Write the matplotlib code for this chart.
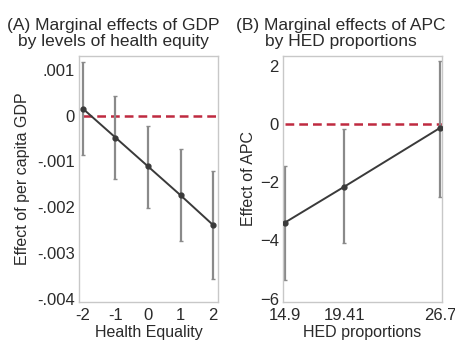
import matplotlib
matplotlib.use("Agg")
import matplotlib.pyplot as plt
import numpy as np

# Panel A: marginal effects of GDP by health equity
equity_levels = [-2, -1, 0, 1, 2]
gdp_effect = [0.00015, -0.00048, -0.00111, -0.00174, -0.00239]
gdp_ci_low = [-0.00087, -0.00139, -0.00202, -0.00274, -0.00357]
gdp_ci_high = [0.00117, 0.00043, -0.00022, -0.00074, -0.00120]
gdp_yticks = [0.001, 0, -0.001, -0.002, -0.003, -0.004]
gdp_yticklabels = [".001", "0", "-.001", "-.002", "-.003", "-.004"]

# Panel B: marginal effects of APC by HED proportions
hed_levels = [14.9, 19.41, 26.7]
apc_effect = [-3.39, -2.16, -0.14]
apc_ci_low = [-5.38, -4.10, -2.53]
apc_ci_high = [-1.44, -0.17, 2.16]
apc_yticks = [2, 0, -2, -4, -6]
hed_ticklabels = ["14.9", "19.41", "26.7"]

plt.rcParams['font.family'] = ['Liberation Sans', 'DejaVu Sans']
LINE = '#3a3a3a'
BAR = '#8a8a8a'
RED = '#bf2a40'
EDGE = '#c8c8c8'
TXT = '#2a2a2a'
FS = 11.5

fig = plt.figure(figsize=(4.56, 3.43), dpi=100)
W, H = 456, 343

def make_axes(x0, y0, x1, y1):
    return fig.add_axes([x0 / W, 1 - y1 / H, (x1 - x0) / W, (y1 - y0) / H])

def style(ax):
    for s in ax.spines.values():
        s.set_color(EDGE)
        s.set_linewidth(1.0)
    ax.tick_params(length=0, labelsize=12, colors=TXT)
    ax.tick_params(axis='x', pad=4)
    ax.tick_params(axis='y', pad=3)

def draw(ax, x, y, lo, hi):
    y = np.array(y)
    err = [y - np.array(lo), np.array(hi) - y]
    ax.errorbar(x, y, yerr=err, fmt='none', ecolor=BAR, elinewidth=1.6,
                capsize=1.2, capthick=1.0, zorder=2)
    ax.plot(x, y, color=LINE, lw=1.4, marker='o', ms=3.5, zorder=3)

# Panel A
axA = make_axes(79, 56, 218, 302)
style(axA)
axA.axhline(0, xmin=(-2 + 2.12) / 4.27, color=RED, lw=1.8, ls=(0, (3.5, 2.0)), zorder=1)
draw(axA, equity_levels, gdp_effect, gdp_ci_low, gdp_ci_high)
axA.set_xlim(-2.12, 2.15)
axA.set_ylim(-0.00407, 0.0013)
axA.set_xticks(equity_levels)
axA.set_xticklabels([str(v) for v in equity_levels])
axA.set_yticks(gdp_yticks)
axA.set_yticklabels(gdp_yticklabels)
axA.set_xlabel("Health Equality", fontsize=FS, color=TXT, labelpad=2)
axA.set_ylabel("Effect of per capita GDP", fontsize=FS, color=TXT, labelpad=5)

# Panel B
axB = make_axes(283, 56, 442, 302)
style(axB)
axB.axhline(0, xmin=(14.9 - 14.75) / 12.1, color=RED, lw=1.8, ls=(0, (3.5, 2.0)), zorder=1)
draw(axB, hed_levels, apc_effect, apc_ci_low, apc_ci_high)
axB.set_xlim(14.75, 26.85)
axB.set_ylim(-6.12, 2.33)
axB.set_xticks(hed_levels)
axB.set_xticklabels(hed_ticklabels)
axB.set_yticks(apc_yticks)
axB.set_xlabel("HED proportions", fontsize=FS, color=TXT, labelpad=2)
axB.set_ylabel("Effect of APC", fontsize=FS, color=TXT, labelpad=3)

fig.text(113 / W, 1 - 33.5 / H, "(A) Marginal effects of GDP\nby levels of health equity",
         ha='center', va='center', fontsize=12.5, color=TXT, linespacing=1.1)
fig.text(341 / W, 1 - 33.5 / H, "(B) Marginal effects of APC\nby HED proportions",
         ha='center', va='center', fontsize=12.5, color=TXT, linespacing=1.1)

fig.savefig("out.png", dpi=100)
